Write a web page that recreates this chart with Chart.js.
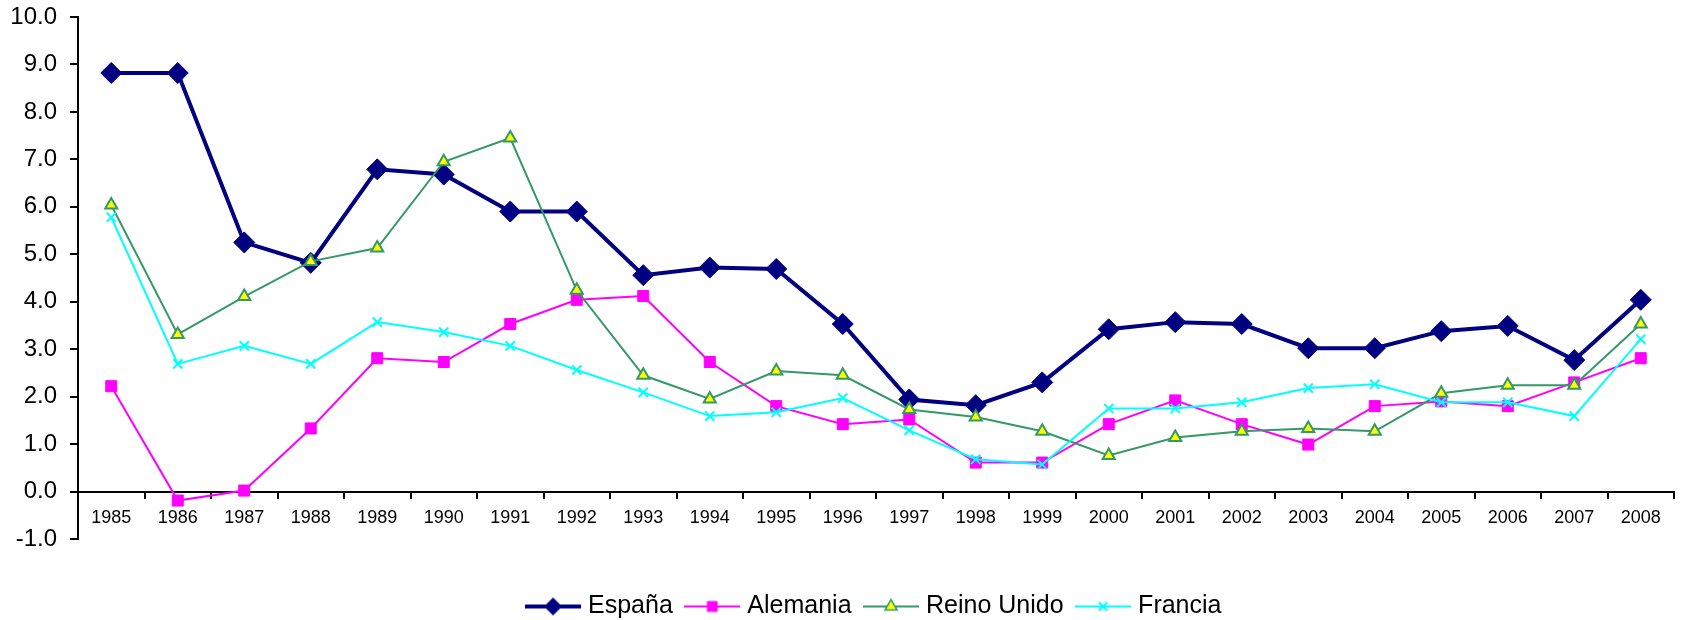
<!DOCTYPE html>
<html>
<head>
<meta charset="utf-8">
<script src="https://cdn.jsdelivr.net/npm/chart.js@4/dist/chart.umd.min.js"></script>
<style>
  body { margin: 0; background: #fff; }
  canvas { display: block; }
</style>
</head>
<body>
<canvas id="inflationChart" width="1688" height="620"></canvas>
<script>
// Categories and series
const years = ['1985', '1986', '1987', '1988', '1989', '1990', '1991', '1992', '1993', '1994', '1995', '1996',
               '1997', '1998', '1999', '2000', '2001', '2002', '2003', '2004', '2005', '2006', '2007', '2008'];

const espana = [8.82, 8.82, 5.25, 4.82, 6.79, 6.68, 5.90, 5.90, 4.56, 4.72, 4.69, 3.53,
                1.94, 1.82, 2.30, 3.42, 3.57, 3.53, 3.02, 3.02, 3.38, 3.49, 2.77, 4.04];
const alemania = [2.22, -0.19, 0.02, 1.33, 2.81, 2.73, 3.53, 4.04, 4.12, 2.73, 1.80, 1.42,
                  1.52, 0.61, 0.61, 1.42, 1.92, 1.42, 0.99, 1.80, 1.90, 1.80, 2.30, 2.81];
const reinoUnido = [6.04, 3.31, 4.11, 4.85, 5.13, 6.95, 7.45, 4.24, 2.45, 1.95, 2.54, 2.45,
                    1.73, 1.57, 1.27, 0.76, 1.14, 1.27, 1.33, 1.27, 2.07, 2.24, 2.24, 3.53];
const francia = [5.78, 2.69, 3.07, 2.69, 3.57, 3.36, 3.07, 2.56, 2.09, 1.59, 1.67, 1.97,
                 1.29, 0.68, 0.57, 1.75, 1.75, 1.88, 2.18, 2.26, 1.88, 1.88, 1.59, 3.21];

const yTickValues = [-1, 0, 1, 2, 3, 4, 5, 6, 7, 8, 9, 10];

const FONT = "'Liberation Sans', Arial, sans-serif";
const NARROW = "'Liberation Sans Narrow', 'Liberation Sans', Arial, sans-serif";

// Small line + marker picture for the legend, Excel style
function legendIcon(lineColor, lineWidth, style, radius, fill, stroke, bw) {
    const c = document.createElement('canvas');
    c.width = 56;
    c.height = 24;
    const ctx = c.getContext('2d');
    ctx.strokeStyle = lineColor;
    ctx.lineWidth = lineWidth;
    ctx.beginPath();
    ctx.moveTo(0, 12);
    ctx.lineTo(56, 12);
    ctx.stroke();
    ctx.fillStyle = fill;
    ctx.strokeStyle = stroke;
    ctx.lineWidth = bw;
    Chart.helpers.drawPoint(ctx, { pointStyle: style, radius: radius, borderWidth: bw, rotation: 0 }, 28, 12);
    return c;
}

const legendIcons = [
    legendIcon('#000080', 4, 'rectRot', 8.5, '#000080', '#000080', 1),
    legendIcon('#FF00FF', 2, 'rect', 7, '#FF00FF', '#FF00FF', 1),
    legendIcon('#339966', 2, 'triangle', 7, '#FFFF00', '#339966', 1.5),
    legendIcon('#00FFFF', 2, 'crossRot', 6, '#00FFFF', '#00FFFF', 2)
];

// Centre the legend under the plot area and drop it to the bottom line, like the original
const legendShift = {
    id: 'legendShift',
    afterLayout(chart) {
        const lg = chart.legend;
        const area = chart.chartArea;
        const dx = (area.left + area.right) / 2 - (lg.left + lg.right) / 2;
        const dy = 38;
        lg.left += dx;
        lg.right += dx;
        lg.top += dy;
        lg.bottom += dy;
        lg.adjustHitBoxes();
    }
};

const ctx = document.getElementById('inflationChart').getContext('2d');
new Chart(ctx, {
    type: 'line',
    data: {
        labels: years,
        datasets: [{
            label: 'España',
            data: espana,
            borderColor: '#000080',
            backgroundColor: '#000080',
            borderWidth: 4,
            pointStyle: 'rectRot',
            pointRadius: 10.5,
            pointBorderWidth: 1,
            order: 4
        }, {
            label: 'Alemania',
            data: alemania,
            borderColor: '#FF00FF',
            backgroundColor: '#FF00FF',
            borderWidth: 2,
            pointStyle: 'rect',
            pointRadius: 7.8,
            pointBorderWidth: 1,
            order: 3
        }, {
            label: 'Reino Unido',
            data: reinoUnido,
            borderColor: '#339966',
            backgroundColor: '#FFFF00',
            borderWidth: 2,
            pointStyle: 'triangle',
            pointRadius: 7,
            pointBorderWidth: 2,
            order: 2
        }, {
            label: 'Francia',
            data: francia,
            borderColor: '#00FFFF',
            backgroundColor: '#00FFFF',
            borderWidth: 2,
            pointStyle: 'crossRot',
            pointRadius: 6.5,
            pointBorderWidth: 2,
            order: 1
        }]
    },
    options: {
        responsive: false,
        animation: false,
        layout: { padding: { top: 17, right: 14, bottom: 29, left: 0 } },
        plugins: {
            tooltip: { enabled: false },
            legend: {
                position: 'bottom',
                labels: {
                    usePointStyle: true,
                    pointStyleWidth: 45,
                    padding: 17,
                    color: '#000',
                    font: { family: FONT, size: 25 },
                    sort: (a, b) => a.datasetIndex - b.datasetIndex,
                    generateLabels(chart) {
                        const items = Chart.defaults.plugins.legend.labels.generateLabels(chart);
                        items.forEach(it => { it.pointStyle = legendIcons[it.datasetIndex]; });
                        return items;
                    }
                }
            }
        },
        scales: {
            x: {
                position: { y: 0 },
                offset: true,
                grid: { offset: true, drawOnChartArea: false, drawTicks: true, tickLength: 6, color: '#000', lineWidth: 2 },
                border: { display: true, color: '#000', width: 2 },
                ticks: { color: '#000', font: { family: NARROW, size: 18 }, padding: 10, maxRotation: 0, autoSkip: false }
            },
            y: {
                min: -1,
                max: 10,
                afterBuildTicks: s => { s.ticks = yTickValues.map(v => ({ value: v })); },
                grid: { drawOnChartArea: false, drawTicks: true, tickLength: 8, color: '#000', lineWidth: 2 },
                border: { display: true, color: '#000', width: 2 },
                ticks: { color: '#000', font: { family: FONT, size: 24 }, padding: 13, callback: v => v.toFixed(1) },
                afterFit: s => { s.width = 78; s.paddingTop = 0; s.paddingBottom = 0; }
            }
        }
    },
    plugins: [legendShift]
});
</script>
</body>
</html>
